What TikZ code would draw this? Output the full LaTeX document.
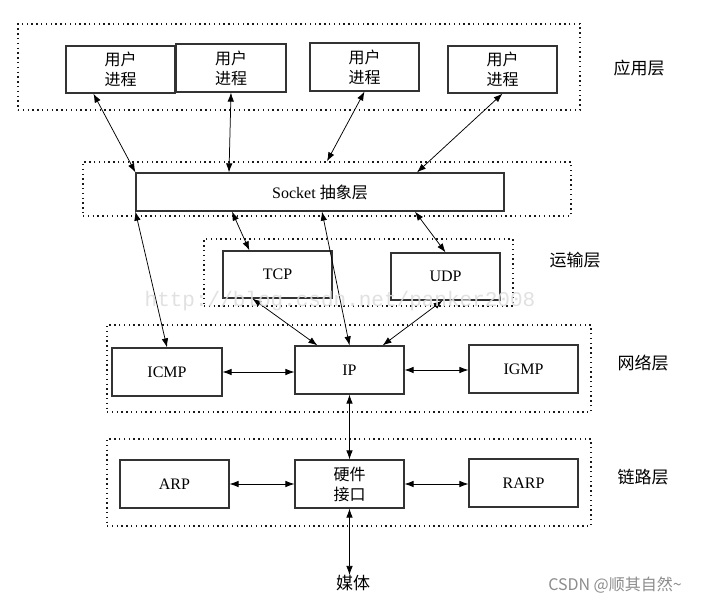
\documentclass[tikz,border=0pt]{standalone}
\usepackage{fontspec}
\setmainfont{Liberation Serif}
\newfontfamily\cjk{Noto Sans CJK SC}
\newfontfamily\wmfont{Liberation Mono}
\usetikzlibrary{arrows.meta}
\begin{document}
\begin{tikzpicture}[x=1pt,y=-1pt,
  box/.style={draw=black!80, line width=1.2pt, fill=white, minimum width=109pt, minimum height=47pt, inner sep=0pt, align=center, font=\fontsize{16}{19}\selectfont},
  cbox/.style={box, font=\cjk\fontsize{16}{20}\selectfont},
  layer/.style={draw=black!90, line width=1.3pt, dash pattern=on 1.4pt off 3.4pt, inner sep=0pt},
  conn/.style={{Latex[length=9pt,width=6.5pt]}-{Latex[length=9pt,width=6.5pt]}, line width=0.75pt, black},
  lbl/.style={font=\cjk\fontsize{17}{20}\selectfont, inner sep=0pt},
]
\useasboundingbox (0,0) rectangle (710,604);
\fill[white] (0,0) rectangle (710,604);
% layer frames
\node[layer, minimum width=562pt, minimum height=86pt] (appL) at (299,67) {};
\node[layer, minimum width=488pt, minimum height=54pt] (sockL) at (327,189) {};
\node[layer, minimum width=309pt, minimum height=67pt] (transL) at (358.5,272.5) {};
\node[layer, minimum width=484pt, minimum height=87pt] (netL) at (349,368.5) {};
\node[layer, minimum width=484pt, minimum height=87pt] (linkL) at (349,482.5) {};
% boxes
\node[cbox] (u1) at (120.5,69.5) {用户\\进程};
\node[cbox, minimum width=110pt, minimum height=48pt] (u2) at (231,68) {用户\\进程};
\node[cbox, minimum height=48pt] (u3) at (364.5,67) {用户\\进程};
\node[cbox] (u4) at (502.5,69.5) {用户\\进程};
\node[box, minimum width=368pt, minimum height=38pt] (sock) at (320,192) {Socket {\cjk 抽象层}};
\node[box] (tcp) at (277.5,274.5) {TCP};
\node[box] (udp) at (445.5,276.5) {UDP};
\node[box, minimum width=110pt, minimum height=48pt] (icmp) at (167,372) {ICMP};
\node[box, minimum height=48pt] (ip) at (349.5,370) {IP};
\node[box, minimum height=48pt] (igmp) at (523.5,369) {IGMP};
\node[box, minimum height=48pt] (arp) at (174.5,484) {ARP};
\node[cbox, minimum height=48pt] (hw) at (349.5,484) {硬件\\接口};
\node[box, minimum height=48pt] (rarp) at (523.5,483) {RARP};
% labels
\node[lbl] (la) at (639,68) {应用层};
\node[lbl] (lt) at (575,260) {运输层};
\node[lbl] (ln) at (643,363) {网络层};
\node[lbl] (ll) at (643,477) {链路层};
\node[lbl] (media) at (353,583) {媒体};
\node[font=\cjk\fontsize{16}{19}\selectfont, text=black!45, inner sep=0pt] (csdn) at (615,585) {CSDN @顺其自然\textasciitilde};
% connectors
\draw[conn] ([xshift=28pt]u1.south west) -- (sock.north west);
\draw[conn] (u2.south) -- ([xshift=-91pt]sock.north);
\draw[conn] (u3.south) -- (sockL.north);
\draw[conn] (u4.south) -- ([xshift=97pt]sock.north);
\draw[conn] (sock.south west) -- (icmp.north);
\draw[conn] ([xshift=-88pt]sock.south) -- ([xshift=27pt]tcp.north west);
\draw[conn] ([xshift=2pt]sock.south) -- (ip.north);
\draw[conn] ([xshift=95pt]sock.south) -- (udp.north);
\draw[conn] ([xshift=30pt]tcp.south west) -- ([xshift=23pt]ip.north west);
\draw[conn] ([xshift=-3pt]udp.south) -- ([xshift=-22pt]ip.north east);
\draw[conn] (icmp.east) -- (icmp.east -| ip.west);
\draw[conn] (ip.east) -- (ip.east -| igmp.west);
\draw[conn] (ip.south) -- (hw.north);
\draw[conn] (arp.east) -- (hw.west);
\draw[conn] (hw.east) -- (hw.east -| rarp.west);
\draw[conn] (hw.south) -- (hw.south |- media.north);
% watermark (faint overlay)
\node[font=\wmfont\fontsize{21}{24}\selectfont, text=black!13, inner sep=0pt, opacity=0.9] (wm) at (340,301) {http://blog.csdn.net/panker2008};
\end{tikzpicture}
\end{document}
